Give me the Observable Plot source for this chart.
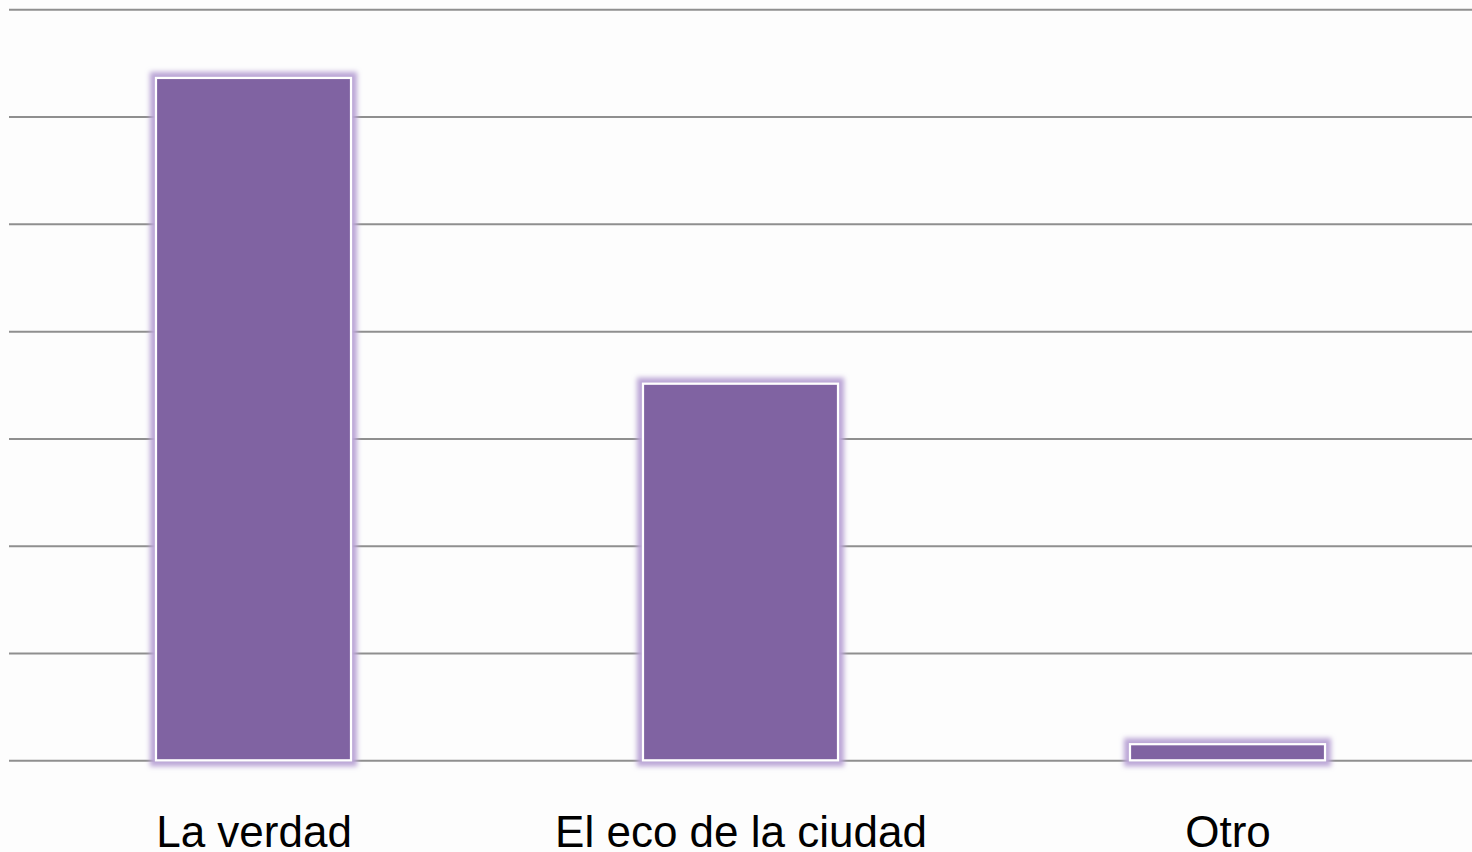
<!DOCTYPE html>
<html>
<head>
<meta charset="utf-8">
<script src="https://cdn.jsdelivr.net/npm/d3@7"></script>
<script src="https://cdn.jsdelivr.net/npm/@observablehq/plot@0.6"></script>
<style>
  html, body { margin: 0; padding: 0; background: #fdfdfd; overflow: hidden; }
  #chart svg { display: block; background: #fdfdfd; }
</style>
</head>
<body>
<div id="chart"></div>
<script>
const categories = ["La verdad", "El eco de la ciudad", "Otro"];
const values = [63.6, 35.1, 1.5];
const yTicks = [0, 10, 20, 30, 40, 50, 60, 70];

const data = categories.map((c, i) => ({ category: c, value: values[i] }));

const chart = Plot.plot({
  width: 1472,
  height: 852,
  marginLeft: 9,
  marginRight: 0,
  marginTop: 9.3,
  marginBottom: 91.7,
  style: { background: "#fdfdfd", fontFamily: "'Liberation Sans', Arial, sans-serif" },
  x: { domain: categories, paddingInner: 0.6, paddingOuter: 0.3, align: 0.5, label: null },
  y: { domain: [0, 70], axis: null, label: null },
  marks: [
    Plot.ruleY(yTicks, { stroke: "#8f8f8f", strokeWidth: 2 }),
    Plot.barY(data, {
      x: "category",
      y: "value",
      fill: "#8064A2",
      stroke: "#ffffff",
      strokeWidth: 2.2,
      className: "glowbars"
    }),
    Plot.axisX({
      tickSize: 0,
      tickPadding: 55,
      fontSize: 44,
      fill: "#000000",
      label: null
    })
  ]
});

// soft lavender glow around bars
const svg = d3.select(chart);
const defs = svg.insert("defs", ":first-child");
const f = defs.append("filter")
  .attr("id", "barGlow")
  .attr("filterUnits", "userSpaceOnUse")
  .attr("x", 0).attr("y", 0).attr("width", 1472).attr("height", 852);
f.append("feMorphology").attr("in", "SourceAlpha").attr("operator", "dilate").attr("radius", 5).attr("result", "dil");
f.append("feGaussianBlur").attr("in", "dil").attr("stdDeviation", 2.6).attr("result", "blur");
f.append("feFlood").attr("flood-color", "#bba6d6").attr("flood-opacity", 1).attr("result", "col");
f.append("feComposite").attr("in", "col").attr("in2", "blur").attr("operator", "in").attr("result", "glow");
const m = f.append("feMerge");
m.append("feMergeNode").attr("in", "glow");
m.append("feMergeNode").attr("in", "SourceGraphic");
svg.selectAll("g.glowbars rect").attr("filter", "url(#barGlow)");

document.getElementById("chart").appendChild(chart);
</script>
</body>
</html>
